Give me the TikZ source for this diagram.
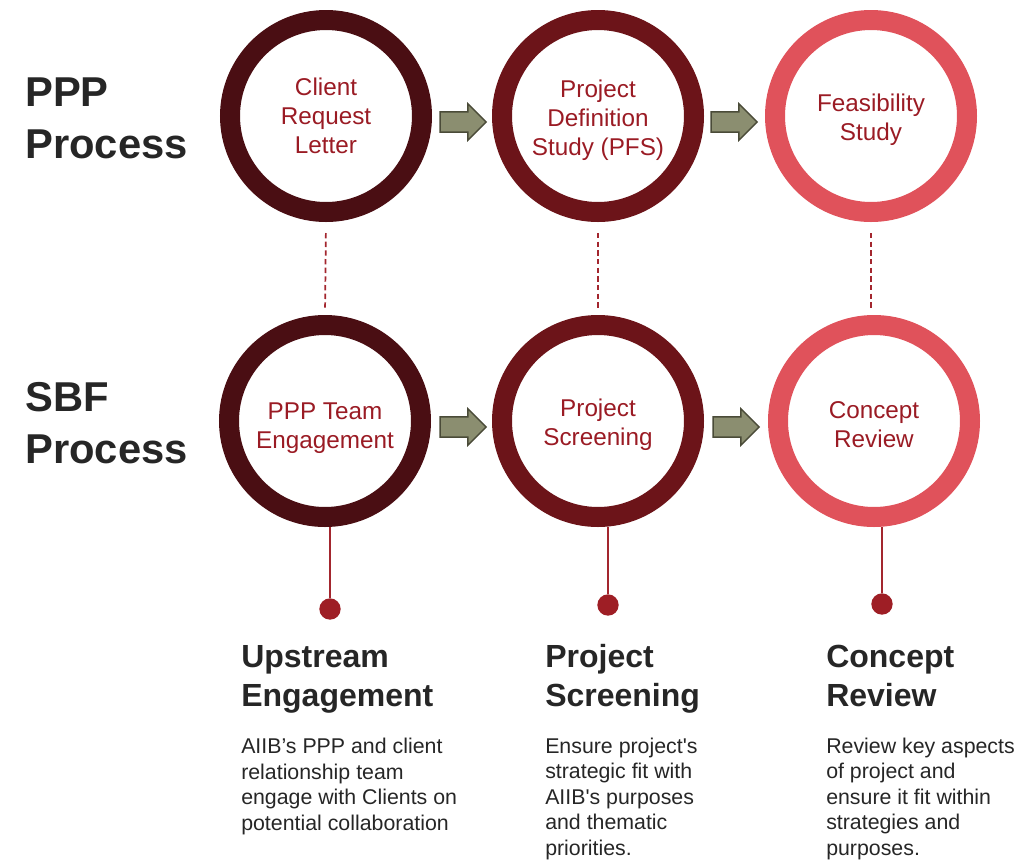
\documentclass[tikz,border=0pt]{standalone}
\usepackage{fontspec}
\setmainfont{Liberation Sans}
\usepackage{tikz}
\usetikzlibrary{shapes.arrows}
\definecolor{ringA}{HTML}{4A0E13}
\definecolor{ringB}{HTML}{6C1419}
\definecolor{ringC}{HTML}{E0525B}
\definecolor{stagetext}{HTML}{9A1B24}
\definecolor{linkred}{HTML}{A3262E}
\definecolor{knobred}{HTML}{9E1E25}
\definecolor{arrowfill}{HTML}{8B8E70}
\definecolor{arrowline}{HTML}{4A4B38}
\definecolor{ink}{HTML}{262626}

\begin{document}
\begin{tikzpicture}[x=0.75pt,y=-0.75pt,
   ring/.style={circle,draw,line width=15pt,minimum size=144pt,inner sep=0pt},
   stage/.style={align=center,inner sep=0pt,text=stagetext,font=\fontsize{18.2}{21.75}\selectfont},
   go/.style={single arrow,draw=arrowline,fill=arrowfill,line width=1.1pt,minimum height=34.5pt,single arrow head extend=6pt,single arrow head indent=0pt,inner xsep=0pt,inner ysep=7.1pt},
   link/.style={linkred,line width=1.3pt,dash pattern=on 4pt off 2.5pt,shorten <=8.25pt,shorten >=5.25pt},
   drop/.style={linkred,line width=1.1pt},
   knob/.style={circle,fill=knobred,minimum size=16pt,inner sep=0pt},
   sidelabel/.style={anchor=base west,align=left,inner sep=0pt,text=ink,font=\bfseries\fontsize{31.3}{39}\selectfont},
   headline/.style={anchor=base west,align=left,inner sep=0pt,text=ink,font=\bfseries\fontsize{24}{29.25}\selectfont},
   blurb/.style={anchor=base west,align=left,inner sep=0pt,text=ink,font=\fontsize{16}{19.1}\selectfont}]
\useasboundingbox (0,0) rectangle (1026,865);
\node[sidelabel] (ppp) at (25,158) {PPP\\Process};
\node[sidelabel] (sbf) at (25,463) {SBF\\Process};
\node[ring,draw=ringA] (A1) at (326,116) {};
\node[ring,draw=ringB] (A2) at (598,116) {};
\node[ring,draw=ringC] (A3) at (871,116) {};
\node[ring,draw=ringA] (B1) at (325,421) {};
\node[ring,draw=ringB] (B2) at (598,421) {};
\node[ring,draw=ringC] (B3) at (874,421) {};
\node[stage] (A1t) at (A1) {Client\\Request\\Letter};
\node[stage] (A2t) at ([yshift=-3pt]A2) {Project\\Definition\\Study (PFS)};
\node[stage] (A3t) at ([yshift=-3pt]A3) {Feasibility\\Study};
\node[stage] (B1t) at ([yshift=-5pt]B1) {PPP Team\\Engagement};
\node[stage] (B2t) at ([yshift=-2.5pt]B2) {Project\\Screening};
\node[stage] (B3t) at ([yshift=-2.5pt]B3) {Concept\\Review};
\node[go] (a1) at (458,122) {};
\node[go] (a2) at (729,122) {};
\node[go] (b1) at (458,427) {};
\node[go] (b2) at (731,427) {};
\draw[link] (A1.south) -- (B1.north);
\draw[link] (A2.south) -- (B2.north);
\draw[link] (A3.south) -- (A3.south |- B3.north);
\node[knob] (d1) at (330,609) {};
\node[knob] (d2) at (608,605) {};
\node[knob] (d3) at (882,604) {};
\draw[drop] (d1 |- B1.south) -- (d1);
\draw[drop] (d2 |- B2.south) -- (d2);
\draw[drop] (d3 |- B3.south) -- (d3);
\node[headline] (h1) at (241,706) {Upstream\\Engagement};
\node[headline] (h2) at (545,706) {Project\\Screening};
\node[headline] (h3) at (826,706) {Concept\\Review};
\node[blurb] (t1) at (241,830) {AIIB’s PPP and client\\relationship team\\engage with Clients on\\potential collaboration};
\node[blurb] (t2) at (545,855) {Ensure project\textquotesingle s\\strategic fit with\\AIIB\textquotesingle s purposes\\and thematic\\priorities.};
\node[blurb] (t3) at (826,855) {Review key aspects\\of project and\\ensure it fit within\\strategies and\\purposes.};
\end{tikzpicture}
\end{document}
